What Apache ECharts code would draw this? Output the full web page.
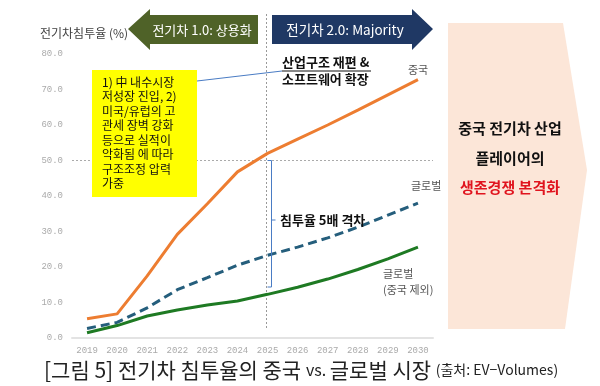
<!DOCTYPE html>
<html><head><meta charset="utf-8">
<script src="https://cdn.jsdelivr.net/npm/echarts@6/dist/echarts.min.js"></script>
<style>html,body{margin:0;padding:0;background:#fff}#c{width:600px;height:386px}</style>
</head><body><div id="c"></div>
<script>
const years = ['2019','2020','2021','2022','2023','2024','2025','2026','2027','2028','2029','2030'];
const china = [5.4, 6.8, 17.5, 29.2, 37.8, 46.8, 52.0, 56.0, 60.0, 64.2, 68.5, 72.8];
const globalAll = [2.7, 4.4, 8.5, 13.6, 17.0, 20.5, 23.3, 25.6, 28.2, 31.2, 34.6, 38.0];
const globalExChina = [1.5, 3.5, 6.2, 7.9, 9.3, 10.4, 12.3, 14.3, 16.6, 19.3, 22.3, 25.6];
const yTicks = [0, 10, 20, 30, 40, 50, 60, 70, 80];

const KR = '"Noto Sans CJK KR", "Noto Sans", sans-serif';
const MONO = '"Liberation Mono", "DejaVu Sans Mono", monospace';

const chart = echarts.init(document.getElementById('c'), null, {renderer: 'canvas'});

function txt(x, y, text, font, fill, align, extra) {
  return Object.assign({
    type: 'text', x: x, y: y, z: 20,
    style: {text: text, font: font, fill: fill, align: align || 'left', verticalAlign: 'middle',
            textAlign: align || 'left', textVerticalAlign: 'middle'}
  }, extra || {});
}

const option = {
  animation: false,
  backgroundColor: '#fff',
  grid: {left: 72, right: 167, top: 54, bottom: 48},
  xAxis: {
    type: 'category', data: years, boundaryGap: true,
    axisLine: {lineStyle: {color: '#e3e3e3', width: 2}},
    axisTick: {show: false},
    axisLabel: {fontFamily: MONO, fontSize: 9, color: '#aaa', margin: 8}
  },
  yAxis: {
    type: 'value', min: yTicks[0], max: yTicks[yTicks.length - 1], interval: 10,
    axisLine: {show: false}, axisTick: {show: false}, splitLine: {show: false},
    axisLabel: {fontFamily: MONO, fontSize: 9, color: '#aaa', margin: 9,
      formatter: v => v.toFixed(1)}
  },
  series: [
    {name: '중국', type: 'line', data: china, symbol: 'none', z: 5,
     lineStyle: {color: '#ed7d31', width: 3},
     markLine: {silent: true, symbol: 'none', label: {show: false},
       lineStyle: {color: '#aaa', type: [2, 2], width: 1},
       data: [{yAxis: 50}]}},
    {name: '글로벌', type: 'line', data: globalAll, symbol: 'none', z: 4,
     lineStyle: {color: '#255e7c', width: 3, type: [9, 5]}},
    {name: '글로벌 (중국 제외)', type: 'line', data: globalExChina, symbol: 'none', z: 4,
     lineStyle: {color: '#1e7a23', width: 3}}
  ]
};
chart.setOption(option);

const p25 = chart.convertToPixel({gridIndex: 0}, ['2025', 50]);
const vx = Math.round(p25[0]) - 1.5;
const y50 = p25[1];

chart.setOption({
  graphic: [
    txt(40, 33, '전기차침투율 (%)', '12px ' + KR, '#404040'),
    {type: 'line', z: 3, shape: {x1: vx, y1: 14, x2: vx, y2: 330},
     style: {stroke: '#999', lineWidth: 1, lineDash: [2, 2]}},
    {type: 'polygon', z: 10, shape: {points: [[128, 29], [150, 9], [150, 15], [258, 15], [258, 44], [150, 44], [150, 50]]},
     style: {fill: '#4f6228'}},
    txt(202, 30, '전기차 1.0: 상용화', '13px ' + KR, '#fff', 'center'),
    {type: 'polygon', z: 10, shape: {points: [[272, 15], [412, 15], [412, 9], [433, 29], [412, 50], [412, 44], [272, 44]]},
     style: {fill: '#1f3864'}},
    txt(345, 30, '전기차 2.0: Majority', '13.5px ' + KR, '#fff', 'center'),
    {type: 'polygon', z: 1, shape: {points: [[448, 23], [563, 23], [587, 170], [565, 329], [448, 329]]},
     style: {fill: '#fce6d8'}},
    txt(510, 128, '중국 전기차 산업', 'bold 15px ' + KR, '#111', 'center'),
    txt(510, 158, '플레이어의', 'bold 15px ' + KR, '#111', 'center'),
    txt(510, 187, '생존경쟁 본격화', 'bold 15px ' + KR, '#e0141e', 'center'),
    {type: 'rect', z: 8, shape: {x: 92, y: 70, width: 105, height: 127}, style: {fill: '#ffff00'}},
    txt(102, 82, '1) 中 내수시장', '12px ' + KR, '#111'),
    txt(102, 96.5, '저성장 진입, 2)', '12px ' + KR, '#111'),
    txt(102, 111, '미국/유럽의 고', '12px ' + KR, '#111'),
    txt(102, 125.5, '관세 장벽 강화', '12px ' + KR, '#111'),
    txt(102, 140, '등으로 실적이', '12px ' + KR, '#111'),
    txt(102, 154.5, '악화됨 에 따라', '12px ' + KR, '#111'),
    txt(102, 169, '구조조정 압력', '12px ' + KR, '#111'),
    txt(102, 183.5, '가중', '12px ' + KR, '#111'),
    {type: 'line', z: 9, shape: {x1: 197, y1: 81, x2: 282, y2: 71}, style: {stroke: '#4a7cc4', lineWidth: 1}},
    {type: 'line', z: 9, shape: {x1: 282, y1: 71, x2: 371, y2: 71}, style: {stroke: '#111', lineWidth: 1}},
    txt(282, 62, '산업구조 재편 &', 'bold 13px ' + KR, '#111'),
    txt(282, 79, '소프트웨어 확장', 'bold 13px ' + KR, '#111'),
    txt(408, 70, '중국', '11px ' + KR, '#555'),
    txt(411, 186, '글로벌', '11px ' + KR, '#555'),
    txt(383, 274, '글로벌', '11px ' + KR, '#555'),
    txt(383, 290, '(중국 제외)', '11px ' + KR, '#555'),
    {type: 'polyline', z: 9, shape: {points: [[vx + 1, y50], [vx + 5, y50], [vx + 5, 287], [vx + 1, 287]]},
     style: {stroke: '#4a7cc4', lineWidth: 1, fill: null}},
    {type: 'line', z: 9, shape: {x1: vx + 5, y1: 220, x2: vx + 9, y2: 220}, style: {stroke: '#4a7cc4', lineWidth: 1}},
    txt(280, 220, '침투율 5배 격차', 'bold 13px ' + KR, '#111'),
    {type: 'text', x: 44, y: 370, z: 20, style: {
      text: '{a|[그림 5] 전기차 침투율의 중국 }{b|vs. }{a|글로벌 시장 }{c|(출처: EV−Volumes)}',
      verticalAlign: 'middle', textVerticalAlign: 'middle',
      rich: {
        a: {font: '21px ' + KR, fill: '#222', color: '#222'},
        b: {font: '16px ' + KR, fill: '#222', color: '#222'},
        c: {font: '14px ' + KR, fill: '#222', color: '#222'}
      }
    }}
  ]
});
</script></body></html>
